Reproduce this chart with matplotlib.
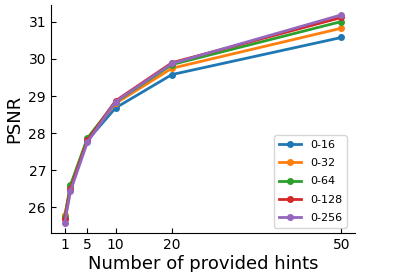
import matplotlib
matplotlib.use("Agg")
import matplotlib.pyplot as plt

hints = [1, 2, 5, 10, 20, 50]
xticks = [1, 5, 10, 20, 50]
labels = ['0-16', '0-32', '0-64', '0-128', '0-256']
psnr_16 = [25.70, 26.55, 27.80, 28.68, 29.58, 30.58]
psnr_32 = [25.78, 26.55, 27.84, 28.80, 29.75, 30.83]
psnr_64 = [25.74, 26.59, 27.86, 28.84, 29.85, 31.01]
psnr_128 = [25.67, 26.50, 27.80, 28.87, 29.90, 31.12]
psnr_256 = [25.58, 26.43, 27.75, 28.85, 29.88, 31.19]

fig = plt.figure(figsize=(3.95, 2.72), dpi=100)
ax = fig.add_axes([0.129, 0.143, 0.77, 0.839])

for vals, lab in zip([psnr_16, psnr_32, psnr_64, psnr_128, psnr_256], labels):
    ax.plot(hints, vals, marker='o', markersize=4, linewidth=2, label=lab)

ax.set_xticks(xticks)
ax.set_ylim(25.3, 31.46)
ax.tick_params(direction='in', labelsize=10)
ax.spines['top'].set_visible(False)
ax.spines['right'].set_visible(False)
ax.set_xlabel('Number of provided hints', fontsize=13, labelpad=2)
ax.set_ylabel('PSNR', fontsize=13)
ax.legend(loc='lower right', fontsize=8, labelspacing=0.75,
          bbox_to_anchor=(0.99, 0.0))

fig.savefig('out.png', dpi=100)
